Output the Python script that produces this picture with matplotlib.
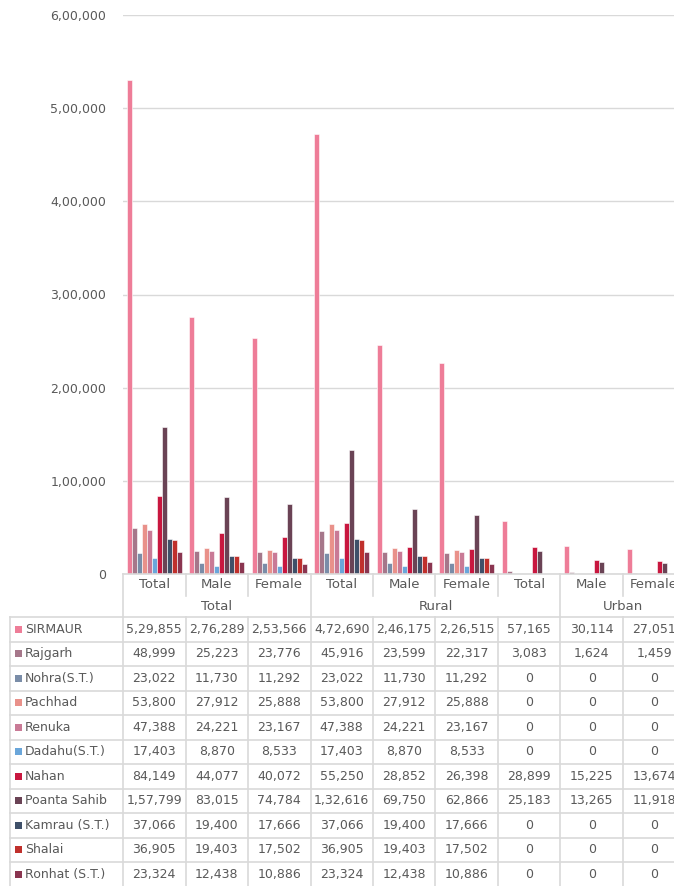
import numpy as np
import matplotlib
matplotlib.use('Agg')
import matplotlib.pyplot as plt
from matplotlib import transforms
from matplotlib.lines import Line2D
from matplotlib.patches import Rectangle

# categories along x and the group labels under them
categories = ['Total', 'Male', 'Female', 'Total', 'Male', 'Female', 'Total', 'Male', 'Female']
groups = ['Total', 'Rural', 'Urban']
group_sizes = [3, 4, 2]

regions = ['SIRMAUR', 'Rajgarh', 'Nohra(S.T.)', 'Pachhad', 'Renuka', 'Dadahu(S.T.)',
           'Nahan', 'Poanta Sahib', 'Kamrau (S.T.)', 'Shalai', 'Ronhat (S.T.)']

sirmaur = [529855, 276289, 253566, 472690, 246175, 226515, 57165, 30114, 27051]
rajgarh = [48999, 25223, 23776, 45916, 23599, 22317, 3083, 1624, 1459]
nohra = [23022, 11730, 11292, 23022, 11730, 11292, 0, 0, 0]
pachhad = [53800, 27912, 25888, 53800, 27912, 25888, 0, 0, 0]
renuka = [47388, 24221, 23167, 47388, 24221, 23167, 0, 0, 0]
dadahu = [17403, 8870, 8533, 17403, 8870, 8533, 0, 0, 0]
nahan = [84149, 44077, 40072, 55250, 28852, 26398, 28899, 15225, 13674]
poanta = [157799, 83015, 74784, 132616, 69750, 62866, 25183, 13265, 11918]
kamrau = [37066, 19400, 17666, 37066, 19400, 17666, 0, 0, 0]
shalai = [36905, 19403, 17502, 36905, 19403, 17502, 0, 0, 0]
ronhat = [23324, 12438, 10886, 23324, 12438, 10886, 0, 0, 0]

series = [sirmaur, rajgarh, nohra, pachhad, renuka, dadahu, nahan, poanta, kamrau, shalai, ronhat]
colors = ['#EE7D98', '#A6778A', '#7A8DA8', '#E9918A', '#C97A96', '#6AA6DA',
          '#C8173F', '#6A4355', '#3F5069', '#C0302C', '#8A3550']

TXT = '#595959'
GRID = '#D9D9D9'
W, H = 674, 886


def indian(n):
    s = str(int(n))
    if len(s) <= 3:
        return s
    last3, rest = s[-3:], s[:-3]
    parts = []
    while len(rest) > 2:
        parts.insert(0, rest[-2:])
        rest = rest[:-2]
    if rest:
        parts.insert(0, rest)
    return ','.join(parts + [last3])


def fy(py):
    return 1 - py / H


fig = plt.figure(figsize=(W / 100, H / 100), dpi=100)
ax = fig.add_axes([123 / W, fy(574), 562.5 / W, (574 - 15) / H])

x = np.arange(len(categories))
bw = 0.08
for j, (vals, c) in enumerate(zip(series, colors)):
    ax.bar(x + (j - 5) * bw, vals, width=bw, color=c, edgecolor='white', linewidth=0.4)

ax.set_xlim(-0.5, len(categories) - 0.5)
ax.set_ylim(0, 600000)
ax.set_yticks(np.arange(0, 600001, 100000))
ax.yaxis.set_major_formatter(plt.FuncFormatter(lambda v, p: indian(v)))
ax.tick_params(axis='y', length=0, pad=12, labelsize=9, labelcolor=TXT)
ax.set_xticks([])
ax.grid(axis='y', color=GRID, linewidth=1)
ax.set_axisbelow(True)
for s in ['top', 'right', 'left']:
    ax.spines[s].set_visible(False)
ax.spines['bottom'].set_color(GRID)
ax.spines['bottom'].set_linewidth(1.2)

# data table below the axis
bt = transforms.blended_transform_factory(ax.transData, fig.transFigure)
lw = 1.2


def vline(xd, y0, y1):
    fig.add_artist(Line2D([xd, xd], [fy(y0), fy(y1)], transform=bt, color=GRID, lw=lw))


def hline(y):
    fig.add_artist(Line2D([10 / W, 1], [fy(y), fy(y)], transform=fig.transFigure, color=GRID, lw=lw))


# header rows
bounds = np.cumsum([0] + group_sizes)
for i in range(len(categories) + 1):
    if i in bounds:
        vline(i - 0.5, 574, 617)
    else:
        vline(i - 0.5, 574, 596)
for i, cat in enumerate(categories):
    fig.text(i, fy(585), cat, transform=bt, ha='center', va='center', fontsize=9.5, color=TXT)
for g, a, b in zip(groups, bounds[:-1], bounds[1:]):
    fig.text((a + b - 1) / 2, fy(606), g, transform=bt, ha='center', va='center', fontsize=9.5, color=TXT)

# data rows
rh = 24.5
top = 617
nrows = len(regions)
for r in range(nrows + 1):
    hline(top + r * rh)
fig.add_artist(Line2D([10 / W, 10 / W], [fy(top), fy(top + nrows * rh)], transform=fig.transFigure, color=GRID, lw=lw))
for i in range(len(categories) + 1):
    vline(i - 0.5, top, top + nrows * rh)

for r, (name, vals, c) in enumerate(zip(regions, series, colors)):
    yc = top + rh * (r + 0.5)
    fig.add_artist(Rectangle((15 / W, fy(yc + 3.5)), 7 / W, 7 / H, transform=fig.transFigure,
                             facecolor=c, edgecolor='none'))
    fig.text(25 / W, fy(yc), name, ha='left', va='center', fontsize=9, color=TXT)
    for i, v in enumerate(vals):
        fig.text(i, fy(yc), indian(v), transform=bt, ha='center', va='center', fontsize=9, color=TXT)

fig.savefig('out.png', dpi=100)
